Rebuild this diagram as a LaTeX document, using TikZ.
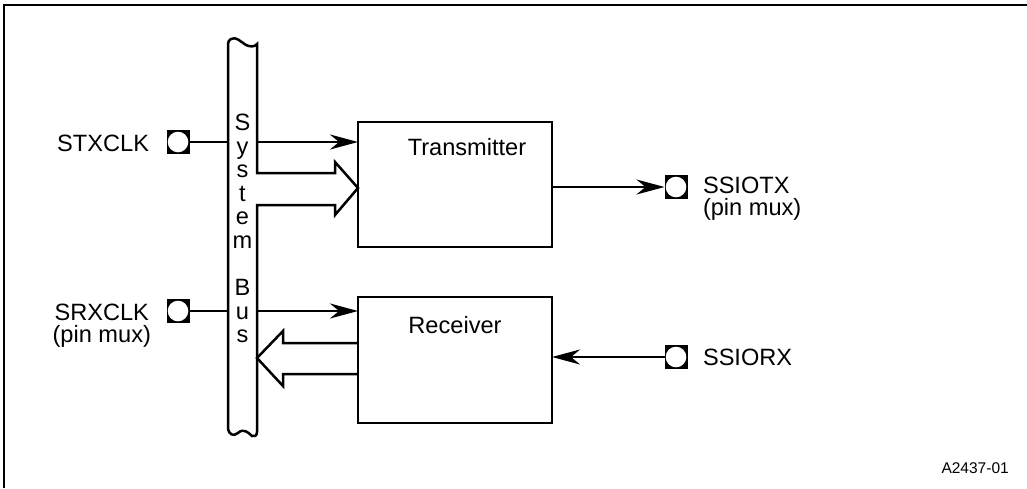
\documentclass[tikz,border=0pt]{standalone}
\usepackage{fontspec}
\setmainfont{Liberation Sans}
\usetikzlibrary{arrows.meta,calc}
\begin{document}
\begin{tikzpicture}[x=1pt,y=-1pt,line width=2.5pt,line join=miter,
  lbl/.style={font=\fontsize{23.6}{26}\selectfont, inner sep=0pt, outer sep=0pt},
  small/.style={font=\fontsize{15.5}{18}\selectfont, inner sep=0pt},
  pinbox/.style={rectangle, fill=black, minimum width=23pt, minimum height=24pt, inner sep=0pt, outer sep=0pt,
     path picture={\fill[white] (path picture bounding box.center) circle (10.3pt);}},
  blk/.style={draw, rectangle, minimum width=194pt, minimum height=125pt, inner sep=0pt, outer sep=0pt},
  sig/.style={-{Stealth[length=28pt,width=15pt,inset=9pt]}}]
\useasboundingbox (0,0) rectangle (1027,488);
% frame
\draw[line width=2.5pt] (4,488) -- (4,5) -- (1027,5);
% blocks
\node[blk] (tx) at (455,184.5) {};
\node[blk, minimum height=126pt] (rx) at (455,360) {};
\node[lbl, anchor=base] (txl) at (467,155) {Transmitter};
\node[lbl, anchor=base] (rxl) at (455,333) {Receiver};
% bus coordinates
\coordinate (busL) at (228,0);
\coordinate (busR) at (257,0);
\coordinate (txin) at (358,188);
\coordinate (rxout) at (257,358);
% bus with the wide arrow into the transmitter
\draw (335,173) -- (257,173) -- (257,44)
  .. controls (255,47) and (250,47) .. (246,45)
  .. controls (241,42) and (236,36) .. (231,39)
  .. controls (229,40) and (228,42) .. (228,44)
  -- (228,429)
  .. controls (229,434) and (233,437) .. (238,433)
  .. controls (243,428) and (248,432) .. (252,436)
  .. controls (254,437) and (257,436) .. (257,432)
  -- (257,205) -- (335,205) -- (335,215) -- (txin) -- (335,162) -- cycle;
% wide arrow from receiver to bus
\draw (rx.west |- 0,343) -- (283,343) -- (283,331) -- (rxout) -- (283,386) -- (283,374) -- (rx.west |- 0,374);
% bus letters
\foreach \c/\k in {S/0,y/1,s/2,t/3,e/4,m/5,B/7,u/8,s/9}
  \node[lbl, anchor=base] (bus\k) at (242.5,130.4+23.6*\k) {\c};
% pins
\node[pinbox] (stx) at (178,142) {};
\node[pinbox] (srx) at (178,311) {};
\node[pinbox] (sotx) at (676,187) {};
\node[pinbox] (sorx) at (676,357) {};
% pin labels
\node[lbl, anchor=base east] (stxl) at (149,151) {STXCLK};
\node[lbl, anchor=base east] (srxl) at (149,320) {SRXCLK};
\node[lbl, anchor=base] (srxm) at ([yshift=-22pt]srxl.base) {(pin mux)};
\node[lbl, anchor=base west] (sotxl) at (703,193) {SSIOTX};
\node[lbl, anchor=base west] (sotxm) at ([yshift=-22pt]sotxl.base west) {(pin mux)};
\node[lbl, anchor=base west] (sorxl) at (703,365) {SSIORX};
\node[small, anchor=base east] (code) at (1010,473) {A2437-01};
% connectors
\draw (stx.east) -- (busL |- stx);
\draw[sig] (busR |- stx) -- (tx.west |- stx);
\draw (srx.east) -- (busL |- srx);
\draw[sig] (busR |- srx) -- (rx.west |- srx);
\draw[sig] (tx.east |- sotx) -- (sotx.west);
\draw[sig] (sorx.west) -- (rx.east |- sorx);
\end{tikzpicture}
\end{document}
